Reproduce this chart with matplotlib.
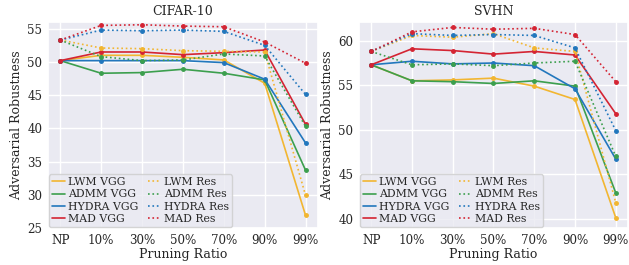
import matplotlib.pyplot as plt
from matplotlib.lines import Line2D
import seaborn as sns

sns.set_theme(style="darkgrid")
plt.rcParams['font.family'] = ['DejaVu Serif']

ratios = ["NP", "10%", "30%", "50%", "70%", "90%", "99%"]

# CIFAR-10
c_lwm_vgg = [50.2, 51.0, 51.0, 50.7, 50.3, 46.8, 26.9]
c_admm_vgg = [50.2, 48.3, 48.4, 48.9, 48.3, 47.3, 33.7]
c_hydra_vgg = [50.2, 50.2, 50.2, 50.2, 49.9, 47.4, 37.8]
c_mad_vgg = [50.2, 51.5, 51.5, 51.1, 51.4, 51.8, 40.6]
c_lwm_res = [53.3, 52.1, 52.0, 51.7, 51.6, 51.5, 29.9]
c_admm_res = [53.3, 50.8, 50.2, 50.3, 51.2, 50.9, 40.3]
c_hydra_res = [53.3, 54.8, 54.7, 54.8, 54.6, 52.5, 45.1]
c_mad_res = [53.3, 55.5, 55.6, 55.4, 55.3, 53.0, 49.8]

# SVHN
s_lwm_vgg = [57.3, 55.5, 55.6, 55.8, 54.9, 53.4, 40.1]
s_admm_vgg = [57.3, 55.5, 55.4, 55.2, 55.5, 54.9, 42.9]
s_hydra_vgg = [57.3, 57.7, 57.4, 57.5, 57.2, 54.6, 46.7]
s_mad_vgg = [57.3, 59.1, 58.9, 58.5, 58.8, 58.4, 51.8]
s_lwm_res = [58.8, 60.6, 60.4, 60.8, 59.2, 58.8, 41.8]
s_admm_res = [58.8, 57.3, 57.4, 57.2, 57.5, 57.7, 47.0]
s_hydra_res = [58.8, 60.8, 60.6, 60.7, 60.6, 59.2, 49.9]
s_mad_res = [58.8, 61.0, 61.5, 61.3, 61.4, 60.7, 55.4]

methods = ["LWM", "ADMM", "HYDRA", "MAD"]
colors = ["#f2b631", "#3c9f4e", "#2277bd", "#d42433"]

cifar_vgg = [c_lwm_vgg, c_admm_vgg, c_hydra_vgg, c_mad_vgg]
cifar_res = [c_lwm_res, c_admm_res, c_hydra_res, c_mad_res]
svhn_vgg = [s_lwm_vgg, s_admm_vgg, s_hydra_vgg, s_mad_vgg]
svhn_res = [s_lwm_res, s_admm_res, s_hydra_res, s_mad_res]

fig = plt.figure(figsize=(6.29, 2.65), dpi=100)
ax1 = fig.add_axes([0.0763, 0.1396, 0.429, 0.777])
ax2 = fig.add_axes([0.5707, 0.1396, 0.4277, 0.777])

x = list(range(len(ratios)))


def draw(ax, vgg, res, title, ylim, yticks):
    handles = []
    for m, c, v in zip(methods, colors, vgg):
        ax.plot(x, v, '-', color=c, lw=1.2, marker='o', ms=2.5)
        handles.append(Line2D([], [], color=c, ls='-', lw=1.2, label=m + " VGG"))
    for m, c, r in zip(methods, colors, res):
        ax.plot(x, r, ':', color=c, lw=1.2, marker='o', ms=2.5)
        handles.append(Line2D([], [], color=c, ls=':', lw=1.2, label=m + " Res"))
    ax.set_xticks(x)
    ax.set_xticklabels(ratios, fontsize=8.6)
    ax.set_yticks(yticks)
    ax.tick_params(axis='both', length=0)
    ax.tick_params(axis='y', labelsize=8.6, pad=4)
    ax.tick_params(axis='x', pad=4)
    ax.set_ylim(*ylim)
    ax.set_title(title, fontsize=9, pad=5)
    ax.set_xlabel("Pruning Ratio", fontsize=9, labelpad=1)
    ax.set_ylabel("Adversarial Robustness", fontsize=9, labelpad=3)
    ax.legend(handles=handles, loc='lower left', ncol=2, fontsize=7.8,
              handlelength=1.2, labelspacing=0.22, borderpad=0.25,
              borderaxespad=0.1, columnspacing=0.9, handletextpad=0.3,
              framealpha=0.8)


draw(ax1, cifar_vgg, cifar_res, "CIFAR-10", (25, 56), [25, 30, 35, 40, 45, 50, 55])
draw(ax2, svhn_vgg, svhn_res, "SVHN", (38.95, 62.1), [40, 45, 50, 55, 60])

fig.savefig("out.png", dpi=100)
